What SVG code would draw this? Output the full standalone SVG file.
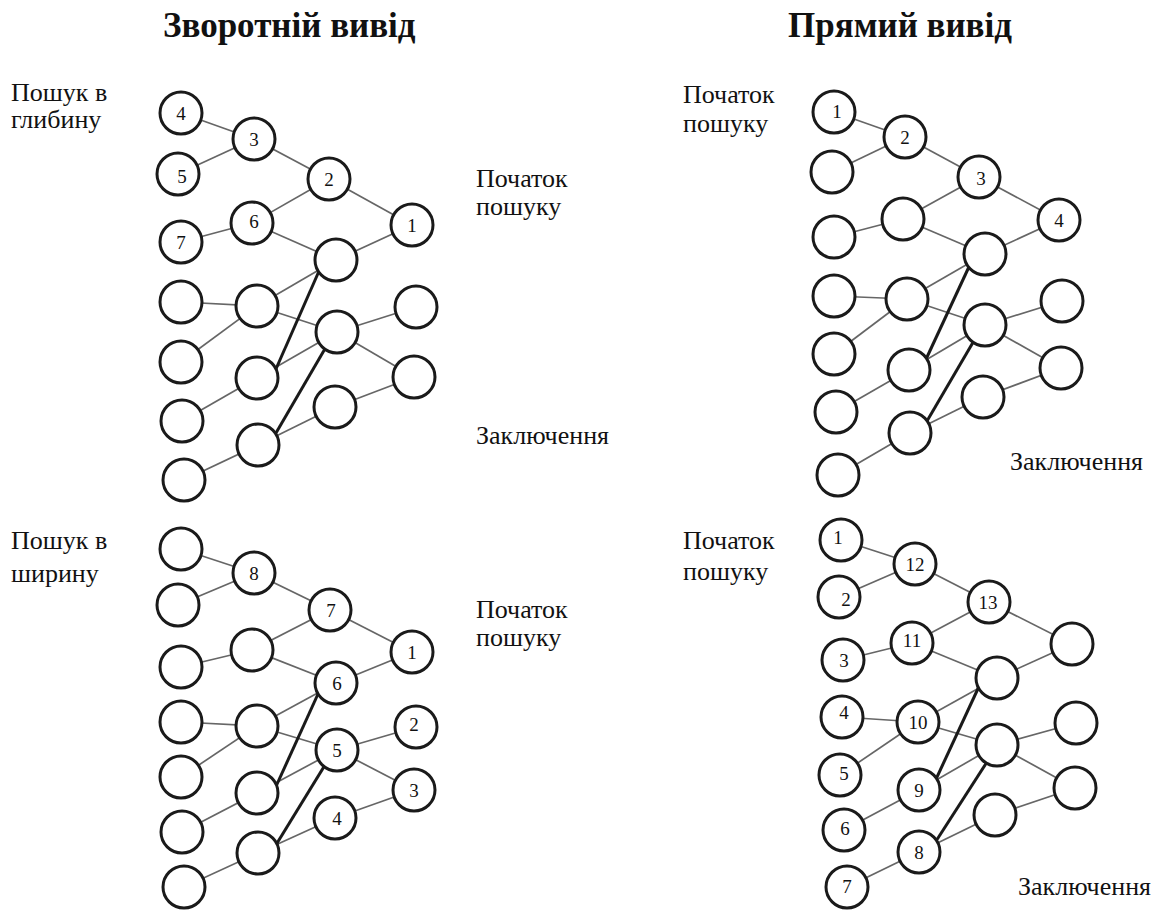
<svg xmlns="http://www.w3.org/2000/svg" width="1160" height="910" viewBox="0 0 1160 910">
  <style>
    .bg { fill: #ffffff; }
    .title { font-family: "Liberation Serif", "Times New Roman", serif; font-weight: bold; font-size: 35px; fill: #111; }
    .lbl { font-family: "Liberation Serif", "Times New Roman", serif; font-size: 26px; fill: #111; }
    .num { font-family: "Liberation Serif", "Times New Roman", serif; font-size: 19px; fill: #111; text-anchor: middle; }
    .node circle { fill: #ffffff; stroke: #1a1a1a; stroke-width: 3; }
    .edge { stroke: #666; stroke-width: 1.7; fill: none; }
    .main { stroke: #1a1a1a; stroke-width: 3; fill: none; }
  </style>
  <rect class="bg" x="0" y="0" width="1160" height="910"/>

  <!-- headings and side labels -->
  <g id="labels">
    <text class="title" x="163" y="37">Зворотній вивід</text>
    <text class="title" x="788" y="37">Прямий вивід</text>

    <text class="lbl" x="11" y="101">Пошук в</text>
    <text class="lbl" x="11" y="128">глибину</text>
    <text class="lbl" x="476" y="187">Початок</text>
    <text class="lbl" x="476" y="215">пошуку</text>
    <text class="lbl" x="476" y="444">Заключення</text>

    <text class="lbl" x="11" y="549">Пошук в</text>
    <text class="lbl" x="11" y="582">ширину</text>
    <text class="lbl" x="476" y="618">Початок</text>
    <text class="lbl" x="476" y="646">пошуку</text>

    <text class="lbl" x="683" y="103">Початок</text>
    <text class="lbl" x="683" y="132">пошуку</text>
    <text class="lbl" x="1010" y="470">Заключення</text>

    <text class="lbl" x="683" y="549">Початок</text>
    <text class="lbl" x="683" y="580">пошуку</text>
    <text class="lbl" x="1018" y="895">Заключення</text>
  </g>

  <!-- connectors -->
  <g id="connectors">
    <!-- depth-first, backward -->
    <line class="edge" x1="181" y1="113" x2="254" y2="139"/>
    <line class="edge" x1="178" y1="174" x2="254" y2="139"/>
    <line class="edge" x1="254" y1="139" x2="329" y2="179"/>
    <line class="edge" x1="329" y1="179" x2="252" y2="223"/>
    <line class="edge" x1="329" y1="179" x2="412" y2="225"/>
    <line class="edge" x1="252" y1="223" x2="181" y2="242"/>
    <line class="edge" x1="252" y1="223" x2="336" y2="260"/>
    <line class="edge" x1="336" y1="260" x2="412" y2="225"/>
    <line class="edge" x1="257" y1="306" x2="336" y2="260"/>
    <line class="edge" x1="257" y1="306" x2="181" y2="302"/>
    <line class="edge" x1="257" y1="306" x2="181" y2="362"/>
    <line class="edge" x1="257" y1="306" x2="337" y2="332"/>
    <line class="edge" x1="257" y1="378" x2="337" y2="332"/>
    <line class="edge" x1="257" y1="378" x2="182" y2="421"/>
    <line class="edge" x1="258" y1="445" x2="335" y2="407"/>
    <line class="edge" x1="258" y1="445" x2="184" y2="480"/>
    <line class="edge" x1="337" y1="332" x2="416" y2="307"/>
    <line class="edge" x1="337" y1="332" x2="414" y2="377"/>
    <line class="edge" x1="335" y1="407" x2="414" y2="377"/>
    <line class="main" x1="272" y1="378" x2="323" y2="262"/>
    <line class="main" x1="269" y1="445" x2="333" y2="335"/>

    <!-- breadth-first, backward -->
    <line class="edge" x1="181" y1="549" x2="254" y2="573"/>
    <line class="edge" x1="178" y1="605" x2="254" y2="573"/>
    <line class="edge" x1="254" y1="573" x2="330" y2="610"/>
    <line class="edge" x1="330" y1="610" x2="252" y2="650"/>
    <line class="edge" x1="330" y1="610" x2="412" y2="652"/>
    <line class="edge" x1="252" y1="650" x2="181" y2="667"/>
    <line class="edge" x1="252" y1="650" x2="336" y2="683"/>
    <line class="edge" x1="336" y1="683" x2="412" y2="652"/>
    <line class="edge" x1="257" y1="726" x2="336" y2="683"/>
    <line class="edge" x1="257" y1="726" x2="181" y2="722"/>
    <line class="edge" x1="257" y1="726" x2="181" y2="777"/>
    <line class="edge" x1="257" y1="726" x2="337" y2="750"/>
    <line class="edge" x1="257" y1="793" x2="337" y2="750"/>
    <line class="edge" x1="257" y1="793" x2="182" y2="832"/>
    <line class="edge" x1="258" y1="853" x2="335" y2="818"/>
    <line class="edge" x1="258" y1="853" x2="184" y2="887"/>
    <line class="edge" x1="337" y1="750" x2="416" y2="727"/>
    <line class="edge" x1="337" y1="750" x2="414" y2="790"/>
    <line class="edge" x1="335" y1="818" x2="414" y2="790"/>
    <line class="main" x1="273" y1="793" x2="323" y2="683"/>
    <line class="main" x1="271" y1="853" x2="333" y2="752"/>

    <!-- depth-first, forward -->
    <line class="edge" x1="834" y1="112" x2="905" y2="137"/>
    <line class="edge" x1="832" y1="172" x2="905" y2="137"/>
    <line class="edge" x1="905" y1="137" x2="979" y2="177"/>
    <line class="edge" x1="979" y1="177" x2="903" y2="219"/>
    <line class="edge" x1="979" y1="177" x2="1059" y2="220"/>
    <line class="edge" x1="903" y1="219" x2="834" y2="237"/>
    <line class="edge" x1="903" y1="219" x2="985" y2="254"/>
    <line class="edge" x1="985" y1="254" x2="1059" y2="220"/>
    <line class="edge" x1="907" y1="299" x2="985" y2="254"/>
    <line class="edge" x1="907" y1="299" x2="834" y2="296"/>
    <line class="edge" x1="907" y1="299" x2="834" y2="354"/>
    <line class="edge" x1="907" y1="299" x2="985" y2="325"/>
    <line class="edge" x1="909" y1="370" x2="985" y2="325"/>
    <line class="edge" x1="909" y1="370" x2="836" y2="412"/>
    <line class="edge" x1="910" y1="433" x2="983" y2="397"/>
    <line class="edge" x1="910" y1="433" x2="838" y2="475"/>
    <line class="edge" x1="985" y1="325" x2="1062" y2="301"/>
    <line class="edge" x1="985" y1="325" x2="1061" y2="368"/>
    <line class="edge" x1="983" y1="397" x2="1061" y2="368"/>
    <line class="main" x1="921" y1="370" x2="974" y2="256"/>
    <line class="main" x1="920" y1="433" x2="982" y2="327"/>

    <!-- breadth-first, forward -->
    <line class="edge" x1="841" y1="540" x2="915" y2="564"/>
    <line class="edge" x1="839" y1="597" x2="915" y2="564"/>
    <line class="edge" x1="915" y1="564" x2="989" y2="602"/>
    <line class="edge" x1="989" y1="602" x2="912" y2="643"/>
    <line class="edge" x1="989" y1="602" x2="1072" y2="644"/>
    <line class="edge" x1="912" y1="643" x2="843" y2="660"/>
    <line class="edge" x1="912" y1="643" x2="997" y2="678"/>
    <line class="edge" x1="997" y1="678" x2="1072" y2="644"/>
    <line class="edge" x1="918" y1="722" x2="997" y2="678"/>
    <line class="edge" x1="918" y1="722" x2="842" y2="717"/>
    <line class="edge" x1="918" y1="722" x2="840" y2="775"/>
    <line class="edge" x1="918" y1="722" x2="997" y2="745"/>
    <line class="edge" x1="919" y1="790" x2="997" y2="745"/>
    <line class="edge" x1="919" y1="790" x2="844" y2="830"/>
    <line class="edge" x1="919" y1="852" x2="995" y2="815"/>
    <line class="edge" x1="919" y1="852" x2="847" y2="887"/>
    <line class="edge" x1="997" y1="745" x2="1076" y2="723"/>
    <line class="edge" x1="997" y1="745" x2="1075" y2="788"/>
    <line class="edge" x1="995" y1="815" x2="1075" y2="788"/>
    <line class="main" x1="931" y1="790" x2="982" y2="680"/>
    <line class="main" x1="929" y1="852" x2="996" y2="748"/>
  </g>

  <!-- nodes: depth-first, backward -->
  <g id="dfb-4" class="node"><circle cx="181" cy="113" r="21"/><text class="num" x="181" y="120">4</text></g>
  <g id="dfb-3" class="node"><circle cx="254" cy="139" r="21"/><text class="num" x="254" y="146">3</text></g>
  <g id="dfb-5" class="node"><circle cx="178" cy="174" r="21"/><text class="num" x="182" y="183">5</text></g>
  <g id="dfb-2" class="node"><circle cx="329" cy="179" r="21"/><text class="num" x="329" y="186">2</text></g>
  <g id="dfb-6" class="node"><circle cx="252" cy="223" r="21"/><text class="num" x="254" y="228">6</text></g>
  <g id="dfb-7" class="node"><circle cx="181" cy="242" r="21"/><text class="num" x="181" y="249">7</text></g>
  <g id="dfb-1" class="node"><circle cx="412" cy="225" r="21"/><text class="num" x="412" y="232">1</text></g>
  <g id="dfb-a" class="node"><circle cx="336" cy="260" r="21"/></g>
  <g id="dfb-l1" class="node"><circle cx="181" cy="302" r="21"/></g>
  <g id="dfb-m1" class="node"><circle cx="257" cy="306" r="21"/></g>
  <g id="dfb-b" class="node"><circle cx="337" cy="332" r="21"/></g>
  <g id="dfb-r1" class="node"><circle cx="416" cy="307" r="21"/></g>
  <g id="dfb-l2" class="node"><circle cx="181" cy="362" r="21"/></g>
  <g id="dfb-m2" class="node"><circle cx="257" cy="378" r="21"/></g>
  <g id="dfb-r2" class="node"><circle cx="414" cy="377" r="21"/></g>
  <g id="dfb-c" class="node"><circle cx="335" cy="407" r="21"/></g>
  <g id="dfb-l3" class="node"><circle cx="182" cy="421" r="21"/></g>
  <g id="dfb-m3" class="node"><circle cx="258" cy="445" r="21"/></g>
  <g id="dfb-l4" class="node"><circle cx="184" cy="480" r="21"/></g>

  <!-- nodes: breadth-first, backward -->
  <g id="bfb-t1" class="node"><circle cx="181" cy="549" r="21"/></g>
  <g id="bfb-8" class="node"><circle cx="254" cy="573" r="21"/><text class="num" x="254" y="580">8</text></g>
  <g id="bfb-t2" class="node"><circle cx="178" cy="605" r="21"/></g>
  <g id="bfb-7" class="node"><circle cx="330" cy="610" r="21"/><text class="num" x="331" y="617">7</text></g>
  <g id="bfb-1" class="node"><circle cx="412" cy="652" r="21"/><text class="num" x="412" y="659">1</text></g>
  <g id="bfb-m0" class="node"><circle cx="252" cy="650" r="21"/></g>
  <g id="bfb-l0" class="node"><circle cx="181" cy="667" r="21"/></g>
  <g id="bfb-6" class="node"><circle cx="336" cy="683" r="21"/><text class="num" x="337" y="690">6</text></g>
  <g id="bfb-l1" class="node"><circle cx="181" cy="722" r="21"/></g>
  <g id="bfb-m1" class="node"><circle cx="257" cy="726" r="21"/></g>
  <g id="bfb-5" class="node"><circle cx="337" cy="750" r="21"/><text class="num" x="337" y="757">5</text></g>
  <g id="bfb-2" class="node"><circle cx="416" cy="727" r="21"/><text class="num" x="414" y="731">2</text></g>
  <g id="bfb-l2" class="node"><circle cx="181" cy="777" r="21"/></g>
  <g id="bfb-m2" class="node"><circle cx="257" cy="793" r="21"/></g>
  <g id="bfb-3" class="node"><circle cx="414" cy="790" r="21"/><text class="num" x="414" y="797">3</text></g>
  <g id="bfb-4" class="node"><circle cx="335" cy="818" r="21"/><text class="num" x="337" y="825">4</text></g>
  <g id="bfb-l3" class="node"><circle cx="182" cy="832" r="21"/></g>
  <g id="bfb-m3" class="node"><circle cx="258" cy="853" r="21"/></g>
  <g id="bfb-l4" class="node"><circle cx="184" cy="887" r="21"/></g>

  <!-- nodes: depth-first, forward -->
  <g id="dff-1" class="node"><circle cx="834" cy="112" r="21"/><text class="num" x="837" y="118">1</text></g>
  <g id="dff-2" class="node"><circle cx="905" cy="137" r="21"/><text class="num" x="905" y="144">2</text></g>
  <g id="dff-u1" class="node"><circle cx="832" cy="172" r="21"/></g>
  <g id="dff-3" class="node"><circle cx="979" cy="177" r="21"/><text class="num" x="981" y="185">3</text></g>
  <g id="dff-m0" class="node"><circle cx="903" cy="219" r="21"/></g>
  <g id="dff-l0" class="node"><circle cx="834" cy="237" r="21"/></g>
  <g id="dff-4" class="node"><circle cx="1059" cy="220" r="21"/><text class="num" x="1059" y="227">4</text></g>
  <g id="dff-a" class="node"><circle cx="985" cy="254" r="21"/></g>
  <g id="dff-l1" class="node"><circle cx="834" cy="296" r="21"/></g>
  <g id="dff-m1" class="node"><circle cx="907" cy="299" r="21"/></g>
  <g id="dff-b" class="node"><circle cx="985" cy="325" r="21"/></g>
  <g id="dff-r1" class="node"><circle cx="1062" cy="301" r="21"/></g>
  <g id="dff-l2" class="node"><circle cx="834" cy="354" r="21"/></g>
  <g id="dff-m2" class="node"><circle cx="909" cy="370" r="21"/></g>
  <g id="dff-r2" class="node"><circle cx="1061" cy="368" r="21"/></g>
  <g id="dff-c" class="node"><circle cx="983" cy="397" r="21"/></g>
  <g id="dff-l3" class="node"><circle cx="836" cy="412" r="21"/></g>
  <g id="dff-m3" class="node"><circle cx="910" cy="433" r="21"/></g>
  <g id="dff-l4" class="node"><circle cx="838" cy="475" r="21"/></g>

  <!-- nodes: breadth-first, forward -->
  <g id="bff-1" class="node"><circle cx="841" cy="540" r="21"/><text class="num" x="838" y="544">1</text></g>
  <g id="bff-12" class="node"><circle cx="915" cy="564" r="21"/><text class="num" x="915" y="571">12</text></g>
  <g id="bff-2" class="node"><circle cx="839" cy="597" r="21"/><text class="num" x="846" y="606">2</text></g>
  <g id="bff-13" class="node"><circle cx="989" cy="602" r="21"/><text class="num" x="988" y="609">13</text></g>
  <g id="bff-11" class="node"><circle cx="912" cy="643" r="21"/><text class="num" x="912" y="647">11</text></g>
  <g id="bff-3" class="node"><circle cx="843" cy="660" r="21"/><text class="num" x="844" y="667">3</text></g>
  <g id="bff-r0" class="node"><circle cx="1072" cy="644" r="21"/></g>
  <g id="bff-a" class="node"><circle cx="997" cy="678" r="21"/></g>
  <g id="bff-4" class="node"><circle cx="842" cy="717" r="21"/><text class="num" x="844" y="719">4</text></g>
  <g id="bff-10" class="node"><circle cx="918" cy="722" r="21"/><text class="num" x="918" y="729">10</text></g>
  <g id="bff-b" class="node"><circle cx="997" cy="745" r="21"/></g>
  <g id="bff-r1" class="node"><circle cx="1076" cy="723" r="21"/></g>
  <g id="bff-5" class="node"><circle cx="840" cy="775" r="21"/><text class="num" x="844" y="780">5</text></g>
  <g id="bff-9" class="node"><circle cx="919" cy="790" r="21"/><text class="num" x="919" y="797">9</text></g>
  <g id="bff-r2" class="node"><circle cx="1075" cy="788" r="21"/></g>
  <g id="bff-c" class="node"><circle cx="995" cy="815" r="21"/></g>
  <g id="bff-6" class="node"><circle cx="844" cy="830" r="21"/><text class="num" x="845" y="835">6</text></g>
  <g id="bff-8" class="node"><circle cx="919" cy="852" r="21"/><text class="num" x="919" y="859">8</text></g>
  <g id="bff-7" class="node"><circle cx="847" cy="887" r="21"/><text class="num" x="847" y="893">7</text></g>
</svg>
